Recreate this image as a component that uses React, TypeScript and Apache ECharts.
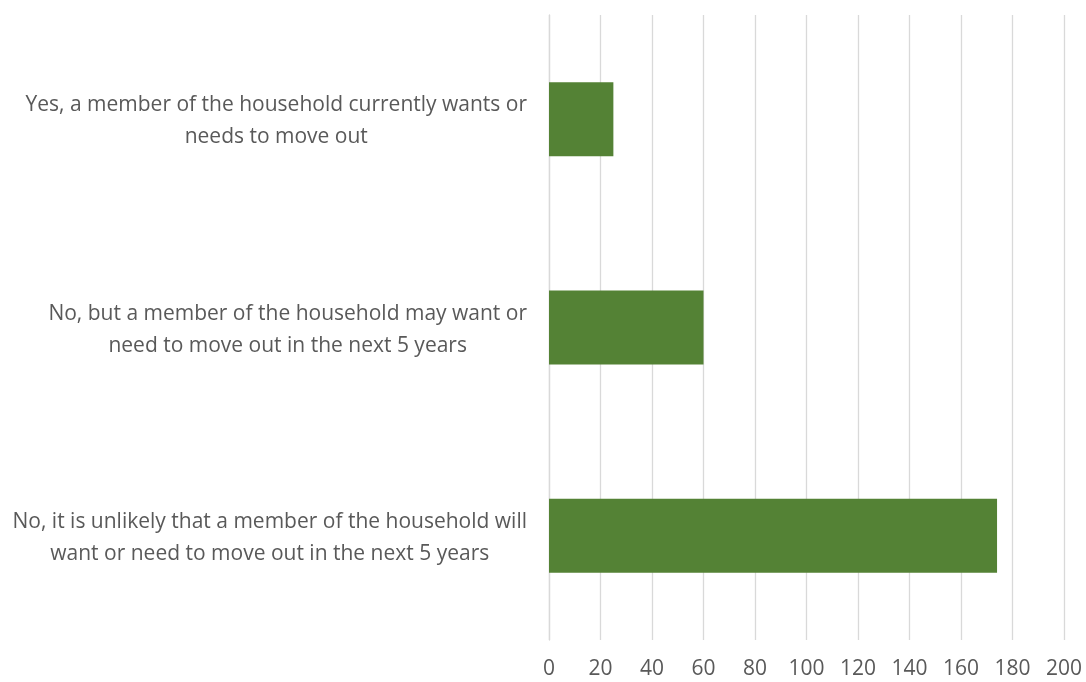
import React, { useEffect, useRef } from "react";
import * as echarts from "echarts";

const categories: string[][] = [
  ["Yes, a member of the household currently wants or", "needs to move out"],
  ["No, but a member of the household may want or", "need to move out in the next 5 years"],
  ["No, it is unlikely that a member of the household will", "want or need to move out in the next 5 years"],
];
const values: number[] = [25, 60, 174];
const xTicks = { min: 0, max: 200, interval: 20 };

export default function App() {
  const ref = useRef<HTMLDivElement>(null);
  useEffect(() => {
    if (!ref.current) return;
    const chart = echarts.init(ref.current, undefined, { renderer: "svg" });
    const font = "'Open Sans', Lato, sans-serif";
    chart.setOption({
      animation: false,
      grid: { left: 549, right: 22, top: 15, bottom: 42, containLabel: false },
      xAxis: {
        type: "value",
        min: xTicks.min,
        max: xTicks.max,
        interval: xTicks.interval,
        axisLine: { show: false },
        axisTick: { show: false },
        splitLine: { show: true, lineStyle: { color: "#d9d9d9", width: 1.3 } },
        axisLabel: { color: "#595959", fontSize: 21, fontFamily: font, margin: 16 },
      },
      yAxis: {
        type: "category",
        inverse: true,
        data: categories.map((c) => c.join("\n")),
        axisLine: { show: true, lineStyle: { color: "#d9d9d9", width: 1.3 } },
        axisTick: { show: false },
        axisLabel: {
          margin: 22,
          align: "right",
          formatter: (v: string) => v.split("\n").map((l) => `{c|${l}}`).join("\n"),
          rich: {
            c: { align: "center", color: "#595959", fontSize: 21, fontFamily: font, lineHeight: 32 },
          },
        },
      },
      series: [
        {
          type: "bar",
          data: values,
          barWidth: "35.5%",
          itemStyle: { color: "#548235" },
        },
      ],
    });
    return () => chart.dispose();
  }, []);
  return <div ref={ref} style={{ position: "fixed", left: 0, top: 0, width: 1086, height: 682 }} />;
}
